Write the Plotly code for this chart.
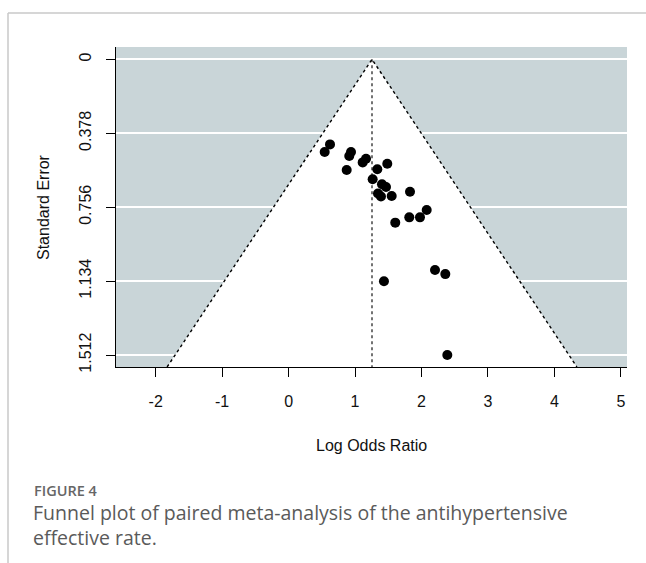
import plotly.graph_objects as go

# Study-level effect sizes (log odds ratio) and their standard errors
log_odds_ratio = [
    0.623, 0.543, 0.939, 0.913, 1.165, 1.115, 0.874, 1.335, 1.485, 1.265,
    1.405, 1.466, 1.345, 1.390, 1.551, 1.827, 2.078, 1.977, 1.816, 1.605,
    1.435, 2.203, 2.358, 2.388,
]
standard_error = [
    0.435, 0.474, 0.474, 0.494, 0.508, 0.527, 0.566, 0.562, 0.534, 0.613,
    0.639, 0.653, 0.686, 0.701, 0.699, 0.677, 0.770, 0.808, 0.808, 0.835,
    1.135, 1.077, 1.098, 1.512,
]
pooled_estimate = 1.255

y_tick_values = [0, 0.378, 0.756, 1.134, 1.512]
y_tick_labels = ["0", "0.378", "0.756", "1.134", "1.512"]
x_tick_values = [-2, -1, 0, 1, 2, 3, 4, 5]
x_tick_labels = ["-2", "-1", "0", "1", "2", "3", "4", "5"]

W, H = 646, 563
M_L, M_R, M_T, M_B = 116, 19, 47, 196
PW, PH = W - M_L - M_R, H - M_T - M_B
x_range = [-2.597, 5.092]
y_range = [1.573, -0.063]

AXIS_FONT = dict(family="Liberation Sans, Arial, sans-serif", size=16, color="#111111")
CAPTION_FONT = "Open Sans, Noto Sans, sans-serif"


def px_x(px):
    return (px - M_L) / PW


def px_y(py):
    return (M_T + PH - py) / PH


# pseudo 95% confidence region around the pooled estimate
se_bottom = y_range[0]
z = 1.96
funnel_x = [pooled_estimate - z * se_bottom, pooled_estimate, pooled_estimate + z * se_bottom]
funnel_y = [se_bottom, 0, se_bottom]

fig = go.Figure()

fig.add_trace(go.Scatter(
    x=funnel_x + [funnel_x[0]], y=funnel_y + [funnel_y[0]],
    fill="toself", fillcolor="white", mode="lines",
    line=dict(width=0, color="white"), hoverinfo="skip", showlegend=False,
))
fig.add_trace(go.Scatter(
    x=funnel_x, y=funnel_y, mode="lines",
    line=dict(color="black", width=1.4, dash="dot"),
    hoverinfo="skip", showlegend=False,
))
fig.add_trace(go.Scatter(
    x=[pooled_estimate, pooled_estimate], y=[0, se_bottom], mode="lines",
    line=dict(color="black", width=1.1, dash="dot"),
    hoverinfo="skip", showlegend=False,
))
fig.add_trace(go.Scatter(
    x=log_odds_ratio, y=standard_error, mode="markers",
    marker=dict(size=10, color="black", line=dict(width=0)),
    showlegend=False,
))

fig.update_xaxes(
    range=x_range, tickvals=x_tick_values, ticktext=x_tick_labels,
    showgrid=False, zeroline=False,
    showline=True, linecolor="black", linewidth=1,
    ticks="outside", ticklen=9, tickcolor="black", tickwidth=1,
    tickfont=AXIS_FONT, ticklabelstandoff=11,
)
fig.update_yaxes(
    range=y_range, tickvals=y_tick_values, ticktext=y_tick_labels,
    showgrid=True, gridcolor="white", gridwidth=2, zeroline=False,
    showline=True, linecolor="black", linewidth=1,
    ticks="outside", ticklen=9, tickcolor="black", tickwidth=1,
    tickfont=AXIS_FONT, tickangle=-90, ticklabelstandoff=9,
)

annotations = [
    dict(text="Log Odds Ratio", x=0.5, y=px_y(445), xref="paper", yref="paper",
         showarrow=False, xanchor="center", yanchor="middle", font=AXIS_FONT),
    dict(text="Standard Error", x=px_x(43), y=0.5, xref="paper", yref="paper",
         showarrow=False, xanchor="center", yanchor="middle", textangle=-90, font=AXIS_FONT),
    dict(text="FIGURE 4", x=px_x(32), y=px_y(490), xref="paper", yref="paper",
         showarrow=False, xanchor="left", yanchor="middle",
         font=dict(family=CAPTION_FONT, size=14.5, color="#666666", weight=600)),
    dict(text="Funnel plot of paired meta-analysis of the antihypertensive",
         x=px_x(31), y=px_y(512), xref="paper", yref="paper",
         showarrow=False, xanchor="left", yanchor="middle",
         font=dict(family=CAPTION_FONT, size=19.5, color="#5a5a5a")),
    dict(text="effective rate.",
         x=px_x(31), y=px_y(537), xref="paper", yref="paper",
         showarrow=False, xanchor="left", yanchor="middle",
         font=dict(family=CAPTION_FONT, size=19.5, color="#5a5a5a")),
]

shapes = [
    dict(type="line", xref="paper", yref="paper",
         x0=px_x(8), x1=px_x(W + 2), y0=px_y(13), y1=px_y(13),
         line=dict(color="#c8c8c8", width=1.5)),
    dict(type="line", xref="paper", yref="paper",
         x0=px_x(8), x1=px_x(8), y0=px_y(13), y1=px_y(H + 2),
         line=dict(color="#c8c8c8", width=1.5)),
]

fig.update_layout(
    width=W, height=H,
    margin=dict(l=M_L, r=M_R, t=M_T, b=M_B),
    paper_bgcolor="white", plot_bgcolor="#c9d5d8",
    annotations=annotations, shapes=shapes,
    showlegend=False,
)

fig.write_html("out.html")
